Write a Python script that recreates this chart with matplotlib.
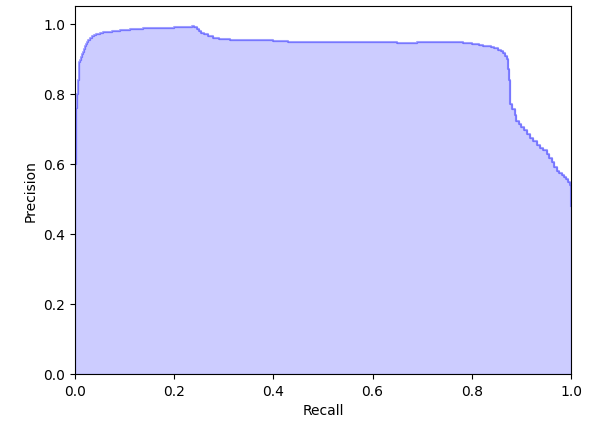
import matplotlib
matplotlib.use('Agg')
import matplotlib.pyplot as plt

# precision-recall points
recall = [0.0, 0.001, 0.002, 0.003, 0.004, 0.005, 0.006, 0.007, 0.008, 0.009,
          0.010, 0.012, 0.014, 0.016, 0.018, 0.020, 0.022, 0.024, 0.027, 0.030,
          0.034, 0.038, 0.043, 0.050, 0.057, 0.065, 0.075, 0.091, 0.110, 0.137,
          0.171, 0.200, 0.220, 0.235, 0.240, 0.245, 0.250, 0.255, 0.260, 0.268,
          0.279, 0.290, 0.3125, 0.340, 0.373, 0.400, 0.430, 0.470, 0.534, 0.590,
          0.649, 0.690, 0.716, 0.750, 0.782, 0.800, 0.815, 0.823, 0.830, 0.838,
          0.845, 0.852, 0.858, 0.863, 0.867, 0.870, 0.872, 0.873, 0.875, 0.877,
          0.878, 0.882, 0.887, 0.890, 0.895, 0.900, 0.906, 0.911, 0.917, 0.923,
          0.931, 0.937, 0.943, 0.951, 0.956, 0.961, 0.966, 0.971, 0.976, 0.981,
          0.986, 0.990, 0.994, 0.998, 1.0]
precision = [0.33, 0.60, 0.73, 0.76, 0.78, 0.80, 0.82, 0.838, 0.86, 0.889,
             0.895, 0.905, 0.912, 0.920, 0.928, 0.936, 0.943, 0.948, 0.954, 0.958,
             0.963, 0.966, 0.969, 0.972, 0.975, 0.977, 0.979, 0.982, 0.984, 0.986,
             0.988, 0.990, 0.991, 0.992, 0.989, 0.985, 0.980, 0.974, 0.969, 0.964,
             0.960, 0.957, 0.954, 0.953, 0.952, 0.949, 0.947, 0.947, 0.946, 0.946,
             0.945, 0.947, 0.948, 0.946, 0.944, 0.942, 0.940, 0.937, 0.935, 0.933,
             0.929, 0.925, 0.921, 0.915, 0.908, 0.900, 0.890, 0.870, 0.840, 0.800,
             0.770, 0.755, 0.740, 0.722, 0.712, 0.705, 0.695, 0.686, 0.674, 0.665,
             0.653, 0.646, 0.639, 0.628, 0.617, 0.604, 0.592, 0.580, 0.574, 0.567,
             0.561, 0.556, 0.549, 0.540, 0.478]

fig = plt.figure(figsize=(6.01, 4.27), dpi=100)
ax = fig.add_axes([75/601., 52/427., 496/601., 368/427.])
ax.step(recall, precision, color='b', alpha=0.35, where='post')
ax.fill_between(recall, precision, step='post', alpha=0.2, color='b')
ax.set_xlabel('Recall')
ax.set_ylabel('Precision')
ax.set_ylim([0.0, 1.05])
ax.set_xlim([0.0, 1.0])
fig.savefig('out.png', dpi=100)
